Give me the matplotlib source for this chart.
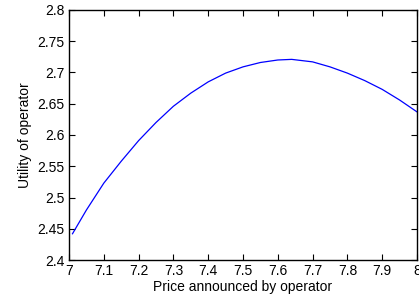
import matplotlib
matplotlib.use("Agg")
import matplotlib.pyplot as plt
from matplotlib.ticker import FormatStrFormatter
import numpy as np

# values
price = [7.01, 7.05, 7.1, 7.15, 7.2, 7.25, 7.3, 7.35, 7.4, 7.45, 7.5, 7.55,
         7.6, 7.64, 7.7, 7.75, 7.8, 7.85, 7.9, 7.95, 8.0]
utility = [2.442, 2.480, 2.523, 2.558, 2.591, 2.620, 2.646, 2.667, 2.685, 2.699,
           2.709, 2.716, 2.720, 2.721, 2.717, 2.709, 2.699, 2.687, 2.673, 2.656, 2.637]

xticks = np.round(np.arange(7.0, 8.01, 0.1), 2)
yticks = np.round(np.arange(2.4, 2.801, 0.05), 2)

plt.rcParams['font.family'] = ['Liberation Sans', 'DejaVu Sans']

fig = plt.figure(figsize=(4.19, 3.0), dpi=100)
ax = fig.add_axes([0.1647, 0.1333, 0.8305, 0.8334])
ax.plot(price, utility, color='#0000ff', lw=0.9)

ax.set_xlim(7, 8)
ax.set_ylim(2.4, 2.8)
ax.set_xticks(xticks)
ax.set_yticks(yticks)
ax.xaxis.set_major_formatter(FormatStrFormatter('%g'))
ax.yaxis.set_major_formatter(FormatStrFormatter('%g'))
ax.tick_params(direction='in', length=4, width=0.8, labelsize=10,
               top=True, right=True, pad=3)
for s in ax.spines.values():
    s.set_linewidth(1.0)

ax.set_xlabel('Price announced by operator', fontsize=10, labelpad=1)
ax.set_ylabel('Utility of operator', fontsize=10, labelpad=4)

fig.savefig('out.png', dpi=100)
